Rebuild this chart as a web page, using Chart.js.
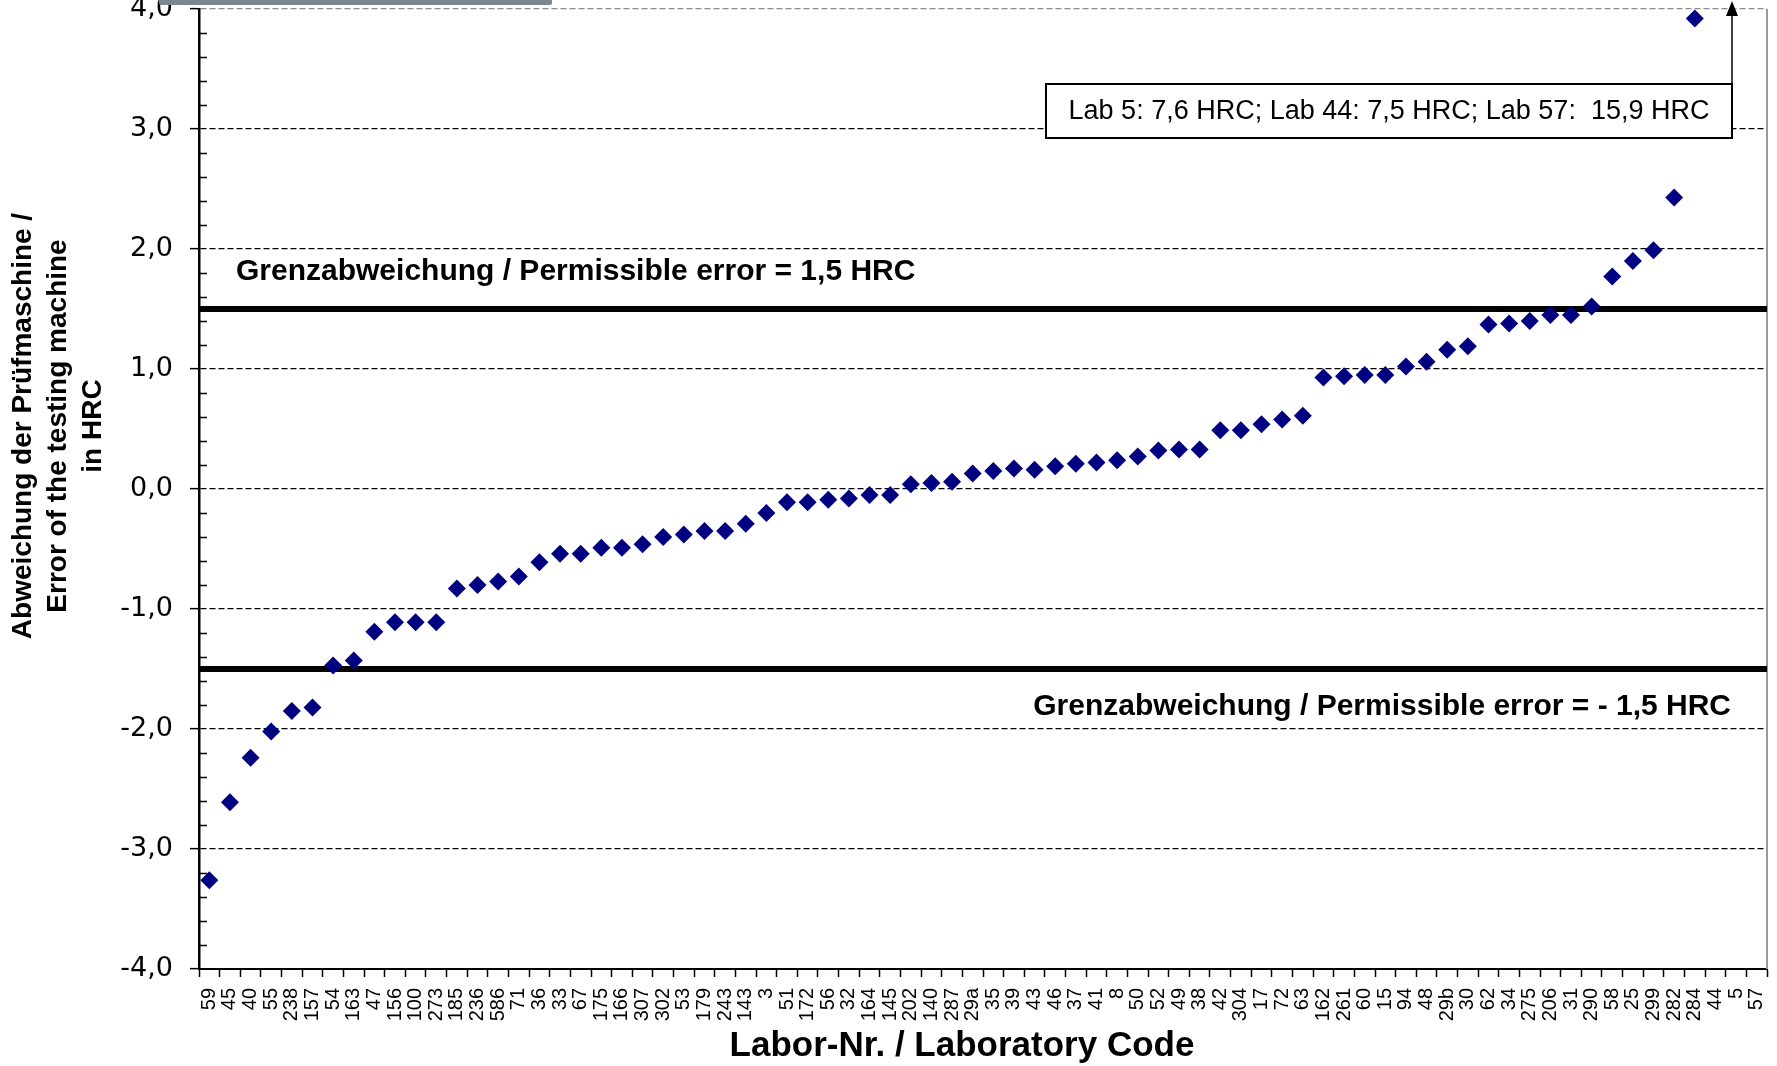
<!DOCTYPE html>
<html>
<head>
<meta charset="utf-8">
<script src="https://cdn.jsdelivr.net/npm/chart.js@4.4.1/dist/chart.umd.min.js"></script>
<style>
  html, body { margin: 0; padding: 0; background: #ffffff; }
  #wrap { width: 1777px; height: 1066px; position: relative; }
</style>
</head>
<body>
<div id="wrap"><canvas id="c" width="1777" height="1066"></canvas></div>
<script>
// ---- data ----
const labCodes = ["59","45","40","55","238","157","54","163","47","156","100","273","185","236","586","71","36","33","67","175","166","307","302","53","179","243","143","3","51","172","56","32","164","145","202","140","287","29a","35","39","43","46","37","41","8","50","52","49","38","42","304","17","72","63","162","261","60","15","94","48","29b","30","62","34","275","206","31","290","58","25","299","282","284","44","5","57"];
const deviations = [-3.26,-2.61,-2.24,-2.02,-1.85,-1.82,-1.47,-1.43,-1.19,-1.11,-1.11,-1.11,-0.83,-0.80,-0.77,-0.73,-0.61,-0.54,-0.54,-0.49,-0.49,-0.46,-0.40,-0.38,-0.35,-0.35,-0.29,-0.20,-0.11,-0.11,-0.09,-0.08,-0.05,-0.05,0.04,0.05,0.06,0.13,0.15,0.17,0.16,0.19,0.21,0.22,0.24,0.27,0.32,0.33,0.33,0.49,0.49,0.54,0.58,0.61,0.93,0.94,0.95,0.95,1.02,1.06,1.16,1.19,1.37,1.38,1.40,1.45,1.45,1.52,1.77,1.90,1.99,2.43,3.92,7.5,7.6,15.9];
const limitUpper = 1.5;
const limitLower = -1.5;
const yMin = -4, yMax = 4;
const yTitleLines = ["Abweichung der Prüfmaschine /", "Error of the testing machine", "in HRC"];
const xTitle = "Labor-Nr. / Laboratory Code";
const upperLimitText = "Grenzabweichung / Permissible error = 1,5 HRC";
const lowerLimitText = "Grenzabweichung / Permissible error = - 1,5 HRC";
const outlierText = "Lab 5: 7,6 HRC; Lab 44: 7,5 HRC; Lab 57:  15,9 HRC";

const extras = {
  id: 'extras',
  beforeDatasetsDraw(chart) {
    const ctx = chart.ctx, a = chart.chartArea, y = chart.scales.y;
    ctx.save();
    // minor ticks (inside)
    ctx.strokeStyle = '#000'; ctx.lineWidth = 1.5;
    for (let i = 0; i <= 40; i++) {
      if (i % 5 === 0) continue;
      const v = yMin + i * 0.2;
      const py = Math.round(y.getPixelForValue(v)) + 0.5;
      ctx.beginPath(); ctx.moveTo(a.left, py); ctx.lineTo(a.left + 8, py); ctx.stroke();
    }
    // right border
    ctx.strokeStyle = '#9a9a9a'; ctx.lineWidth = 2;
    ctx.beginPath(); ctx.moveTo(a.right, a.top); ctx.lineTo(a.right, a.bottom); ctx.stroke();
    // limit lines
    ctx.strokeStyle = '#000'; ctx.lineWidth = 6;
    [limitUpper, limitLower].forEach(v => {
      const py = y.getPixelForValue(v);
      ctx.beginPath(); ctx.moveTo(a.left + 1, py); ctx.lineTo(a.right, py); ctx.stroke();
    });
    ctx.restore();
  },
  afterDraw(chart) {
    const ctx = chart.ctx, a = chart.chartArea, y = chart.scales.y;
    ctx.save();
    // gray bar remnant at top
    ctx.fillStyle = '#7d868f';
    ctx.beginPath();
    ctx.moveTo(159, 0); ctx.lineTo(552, 0); ctx.lineTo(552, 3);
    ctx.quadraticCurveTo(552, 5, 549, 5); ctx.lineTo(162, 5);
    ctx.quadraticCurveTo(159, 5, 159, 3); ctx.closePath(); ctx.fill();

    // limit labels
    ctx.fillStyle = '#000';
    ctx.font = 'bold 30px "Liberation Sans", Arial, sans-serif';
    ctx.textBaseline = 'alphabetic';
    ctx.textAlign = 'left';
    ctx.fillText(upperLimitText, 236, y.getPixelForValue(limitUpper) - 29);
    ctx.textAlign = 'right';
    ctx.fillText(lowerLimitText, 1731, y.getPixelForValue(limitLower) + 46);

    // outlier box + arrow
    const bx = 1046, by = 84, bw = 686, bh = 54;
    ctx.fillStyle = '#fff';
    ctx.fillRect(bx, by, bw, bh);
    ctx.strokeStyle = '#000'; ctx.lineWidth = 2;
    ctx.strokeRect(bx, by, bw, bh);
    ctx.fillStyle = '#000';
    ctx.font = '27px "Liberation Sans", Arial, sans-serif';
    ctx.textAlign = 'center'; ctx.textBaseline = 'middle';
    ctx.fillText(outlierText, bx + bw / 2, by + bh / 2 + 1);
    const ax = bx + bw;
    ctx.lineWidth = 1.5;
    ctx.beginPath(); ctx.moveTo(ax, by); ctx.lineTo(ax, 14); ctx.stroke();
    ctx.beginPath(); ctx.moveTo(ax, 1); ctx.lineTo(ax - 6, 16); ctx.lineTo(ax + 6, 16); ctx.closePath(); ctx.fill();

    // axis titles
    ctx.font = 'bold 35px "Liberation Sans", Arial, sans-serif';
    ctx.textAlign = 'center'; ctx.textBaseline = 'middle';
    ctx.fillText(xTitle, 962, 1046);
    ctx.font = 'bold 28px "Liberation Sans", Arial, sans-serif';
    const xs = [23, 58, 93];
    yTitleLines.forEach((t, i) => {
      ctx.save();
      ctx.translate(xs[i], 426);
      ctx.rotate(-Math.PI / 2);
      ctx.fillText(t, 0, 0);
      ctx.restore();
    });
    ctx.restore();
  }
};

new Chart(document.getElementById('c'), {
  type: 'line',
  data: {
    labels: labCodes,
    datasets: [{
      data: deviations,
      showLine: false,
      pointStyle: 'rectRot',
      pointRadius: 9,
      pointBorderWidth: 0,
      pointBackgroundColor: '#000080',
      pointBorderColor: '#000080'
    }]
  },
  options: {
    responsive: false,
    animation: false,
    devicePixelRatio: 1,
    layout: { padding: { left: 0, right: 10, top: 6, bottom: 0 } },
    plugins: { legend: { display: false }, tooltip: { enabled: false } },
    scales: {
      x: {
        type: 'category',
        offset: true,
        grid: { offset: true, drawOnChartArea: false, tickLength: 8, tickColor: '#000', tickWidth: 1.5 },
        border: { color: '#000', width: 2 },
        ticks: {
          autoSkip: false, maxRotation: 90, minRotation: 90, padding: 11, color: '#000',
          font: { family: '"Liberation Sans", Arial, sans-serif', size: 20 }
        },
        afterFit(s) { s.height = 97; s.paddingLeft = 0; s.paddingRight = 0; }
      },
      y: {
        min: yMin, max: yMax,
        ticks: {
          stepSize: 1, padding: 17, color: '#000',
          font: { family: '"DejaVu Sans", Verdana, sans-serif', size: 27 },
          callback: v => v.toFixed(1).replace('.', ',')
        },
        grid: {
          color: ctx => (ctx.tick && ctx.tick.value === yMax) ? '#8c8c8c' : '#000',
          lineWidth: 1.3, tickLength: 9, tickColor: '#000', tickWidth: 1.5, tickBorderDash: []
        },
        border: { color: '#000', width: 2.5, dash: [6, 3] },
        afterFit(s) { s.width = 199; s.paddingTop = 0; s.paddingBottom = 0; }
      }
    }
  },
  plugins: [extras]
});
</script>
</body>
</html>
